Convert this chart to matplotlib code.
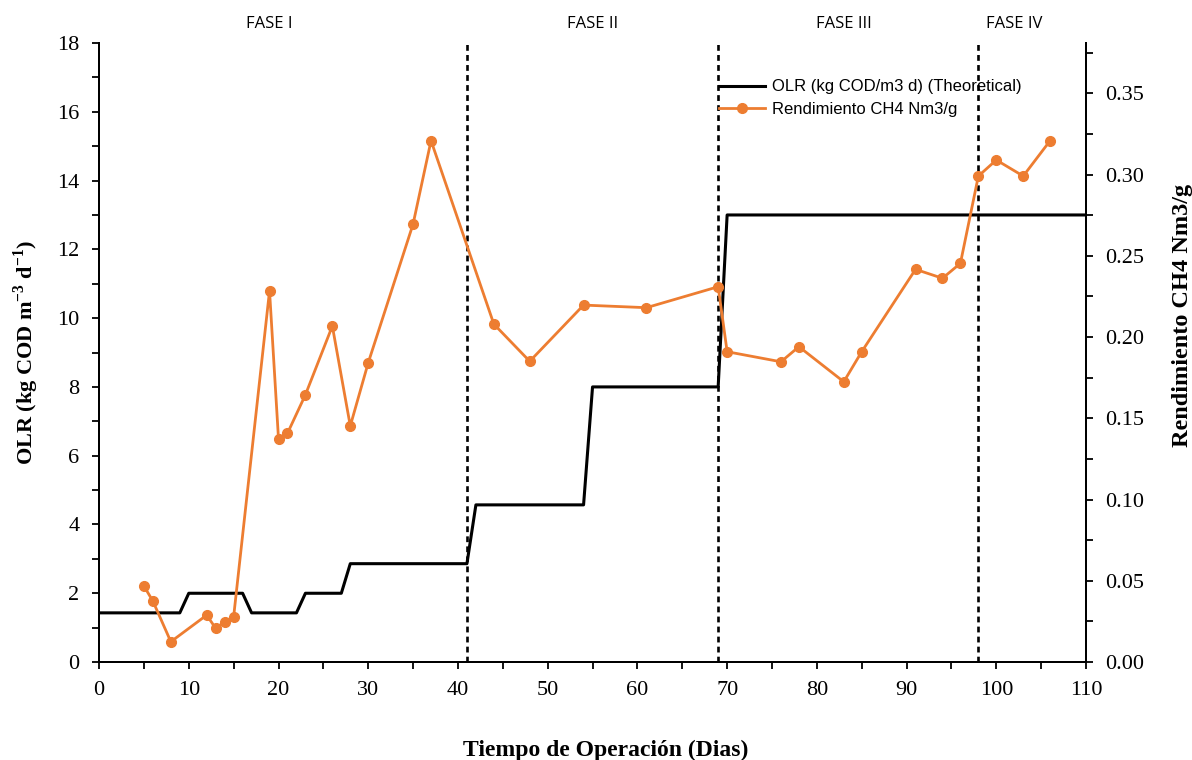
import numpy as np
import matplotlib
matplotlib.use('Agg')
import matplotlib.pyplot as plt
from matplotlib.ticker import MultipleLocator, FormatStrFormatter

# OLR schedule (kg COD/m3 d) - theoretical step profile
olr_days = [0, 9, 10, 16, 17, 22, 23, 27, 28, 41, 42, 54, 55, 69, 70, 110]
olr_vals = [1.43, 1.43, 2.0, 2.0, 1.43, 1.43, 2.0, 2.0, 2.86, 2.86, 4.57, 4.57, 8.0, 8.0, 13.0, 13.0]

# methane yield (Nm3/g)
ch4_days = [5, 6, 8, 12, 13, 14, 15, 19, 20, 21, 23, 26, 28, 30, 35, 37, 44, 48, 54, 61,
            69, 70, 76, 78, 83, 85, 91, 94, 96, 98, 100, 103, 106]
ch4_vals = [0.0468, 0.0375, 0.0125, 0.0289, 0.0207, 0.0248, 0.0279, 0.2285, 0.1373, 0.1408,
            0.1645, 0.2068, 0.1453, 0.1842, 0.2696, 0.3209, 0.2080, 0.1851, 0.2197, 0.2181,
            0.2310, 0.1910, 0.1848, 0.1941, 0.1725, 0.1910, 0.2417, 0.2362, 0.2454, 0.2991,
            0.3090, 0.2991, 0.3209]

phase_limits = [41, 69, 98]
phase_names = ['FASE I', 'FASE II', 'FASE III', 'FASE IV']
phase_centers = [19, 55, 83, 102]

serif = 'Liberation Serif'
orange = '#ED7D31'

plt.rcParams['mathtext.fontset'] = 'custom'
plt.rcParams['mathtext.rm'] = serif
plt.rcParams['mathtext.bf'] = serif + ':bold'

fig = plt.figure(figsize=(11.92, 7.6), dpi=100)
ax = fig.add_axes([0.0831, 0.1289, 0.8280, 0.8145])
ax2 = ax.twinx()

l1, = ax.plot(olr_days, olr_vals, color='black', lw=2.2,
              label='OLR (kg COD/m3 d) (Theoretical)', zorder=3)
for d in phase_limits:
    ax.axvline(d, color='black', lw=1.9, ls=(0, (2.2, 1.6)), zorder=2)

l2, = ax2.plot(ch4_days, ch4_vals, color=orange, lw=2.0, marker='o', ms=7,
               label='Rendimiento CH4 Nm3/g', zorder=4)

ax.set_xlim(0, 110)
ax.set_ylim(0, 18)
ax2.set_ylim(0, 0.381)

ax.xaxis.set_major_locator(MultipleLocator(10))
ax.xaxis.set_minor_locator(MultipleLocator(5))
ax.yaxis.set_major_locator(MultipleLocator(2))
ax.yaxis.set_minor_locator(MultipleLocator(1))
ax2.yaxis.set_major_locator(MultipleLocator(0.05))
ax2.yaxis.set_minor_locator(MultipleLocator(0.025))
ax2.yaxis.set_major_formatter(FormatStrFormatter('%.2f'))

for a in (ax, ax2):
    a.spines['top'].set_visible(False)
    for s in a.spines.values():
        s.set_linewidth(1.4)
    a.tick_params(which='both', direction='out', width=1.3, length=5)
    for lab in a.get_xticklabels() + a.get_yticklabels():
        lab.set_fontfamily(serif)
        lab.set_fontsize(16)

ax.tick_params(axis='x', pad=9)
ax.tick_params(axis='y', pad=9)
ax2.tick_params(axis='y', pad=9)

ax.set_xlabel('Tiempo de Operación (Dias)', fontfamily=serif, fontweight='bold',
              fontsize=17, labelpad=26)
ax.xaxis.set_label_coords(0.513, -0.125)
ax.set_ylabel(r'OLR (kg COD m$^{\mathbf{-3}}$ d$^{\mathbf{-1}}$)', fontfamily=serif,
              fontweight='bold', fontsize=16, labelpad=12)
ax2.set_ylabel('Rendimiento CH4 Nm3/g', fontfamily=serif, fontweight='bold',
               fontsize=17.5)
ax2.yaxis.set_label_coords(1.087, 0.56)

for name, c in zip(phase_names, phase_centers):
    ax.text(c, 1.018, name, transform=ax.get_xaxis_transform(), ha='center', va='bottom',
            fontfamily='Open Sans', fontsize=12)

ax2.legend(handles=[l1, l2], loc='upper left', bbox_to_anchor=(0.621, 0.952),
           frameon=False, prop={'family': 'Liberation Sans', 'size': 12},
           handlelength=2.8, handletextpad=0.4, labelspacing=0.45, borderaxespad=0)

fig.savefig('out.png', dpi=100)
